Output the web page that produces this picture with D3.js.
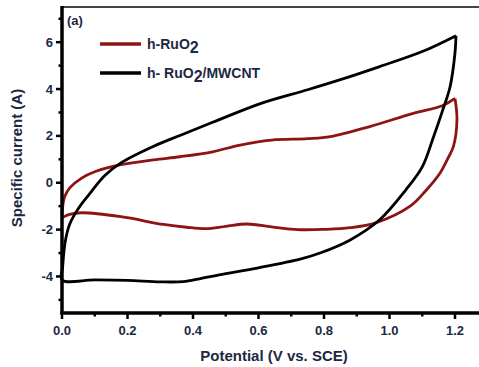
<!DOCTYPE html>
<html>
<head>
<meta charset="utf-8">
<script src="https://cdn.jsdelivr.net/npm/d3@7"></script>
<style>
  body { margin: 0; background: #fff; }
  text { font-family: "Liberation Sans", Arial, sans-serif; font-weight: bold; fill: #1c2842; }
</style>
</head>
<body>
<script>
// h-RuO2 loop: starts at the vertex, return sweep, then forward sweep back up
const ruo2_v = [1.2, 1.206, 1.195, 1.176, 1.155, 1.11, 1.063, 0.96, 0.88, 0.8, 0.72, 0.64, 0.565, 0.5, 0.44, 0.38, 0.31, 0.18, 0.06, 0.02, 0.002, 0.002, 0.008, 0.025, 0.06, 0.1, 0.18, 0.28, 0.36, 0.46, 0.54, 0.64, 0.75, 0.82, 0.94, 1.07, 1.163, 1.2];
const ruo2_i = [3.6, 2.7, 1.54, 0.98, 0.43, -0.35, -1.0, -1.7, -1.92, -1.99, -2.0, -1.88, -1.76, -1.86, -1.96, -1.9, -1.78, -1.45, -1.28, -1.36, -1.45, -1.05, -0.6, -0.2, 0.2, 0.47, 0.77, 0.98, 1.11, 1.32, 1.6, 1.82, 1.88, 1.97, 2.4, 2.95, 3.3, 3.6];

// h-RuO2/MWCNT loop
const cnt_v = [1.203, 1.2, 1.185, 1.163, 1.133, 1.1, 1.05, 0.97, 0.88, 0.79, 0.73, 0.6, 0.48, 0.42, 0.37, 0.3, 0.2, 0.1, 0.0, 0.002, 0.01, 0.024, 0.05, 0.08, 0.13, 0.18, 0.28, 0.36, 0.46, 0.61, 0.75, 0.85, 0.97, 1.1, 1.203];
const cnt_i = [6.28, 5.55, 4.1, 3.12, 1.9, 0.68, -0.3, -1.58, -2.44, -2.99, -3.25, -3.63, -3.93, -4.1, -4.22, -4.23, -4.17, -4.15, -4.15, -3.6, -2.5, -1.75, -1.1, -0.55, 0.3, 0.85, 1.56, 2.02, 2.58, 3.4, 3.97, 4.4, 4.96, 5.6, 6.28];

const x_ticks = [0.0, 0.2, 0.4, 0.6, 0.8, 1.0, 1.2];
const x_minor = [0.1, 0.3, 0.5, 0.7, 0.9, 1.1];
const y_ticks = [-4, -2, 0, 2, 4, 6];
const y_minor = [-5, -3, -1, 1, 3, 5, 7];

const series = [
	{ name: "h-RuO", sub: "2", rest: "", color: "#8e1414", v: ruo2_v, i: ruo2_i },
	{ name: "h- RuO", sub: "2", rest: "/MWCNT", color: "#000", v: cnt_v, i: cnt_i }
];

let width = 479;
let height = 367;
let margin = { left: 62, top: 8, bottom: 54 };

let svg = d3.select("body").append("svg")
	.attr("width", width)
	.attr("height", height);

let x = d3.scaleLinear().domain([0, 1.2]).range([margin.left, 455]);
let y = d3.scaleLinear().domain([-5.56, 7.46]).range([height - margin.bottom, margin.top]);

// frame top line
svg.append("line")
	.attr("x1", margin.left).attr("x2", width)
	.attr("y1", margin.top - 1).attr("y2", margin.top - 1)
	.attr("stroke", "#444").attr("stroke-width", 2);

// curves
let line = d3.line()
	.x(d => x(d[0]))
	.y(d => y(d[1]))
	.curve(d3.curveCatmullRom.alpha(0.5));

series.forEach(s => {
	let pts = s.v.map((v, k) => [v, s.i[k]]);
	svg.append("path")
		.datum(pts)
		.attr("d", line)
		.attr("fill", "none")
		.attr("stroke", s.color)
		.attr("stroke-width", 2.8)
		.attr("stroke-linejoin", "miter");
});

// x axis
let y0 = y.range()[0];
svg.selectAll(".xmaj")
	.data(x_ticks)
	.join("line")
	.attr("class", "xmaj")
	.attr("x1", d => x(d)).attr("x2", d => x(d))
	.attr("y1", y0).attr("y2", y0 + 6)
	.attr("stroke", "#000").attr("stroke-width", 2.5);
svg.selectAll(".xmin")
	.data(x_minor)
	.join("line")
	.attr("class", "xmin")
	.attr("x1", d => x(d)).attr("x2", d => x(d))
	.attr("y1", y0).attr("y2", y0 + 3.5)
	.attr("stroke", "#000").attr("stroke-width", 2.5);
svg.selectAll(".xlab")
	.data(x_ticks)
	.join("text")
	.attr("class", "xlab")
	.attr("x", d => x(d))
	.attr("y", y0 + 22)
	.attr("text-anchor", "middle")
	.attr("font-size", 13)
	.text(d => d.toFixed(1));

// y axis
let x0 = margin.left;
svg.selectAll(".ymaj")
	.data(y_ticks)
	.join("line")
	.attr("class", "ymaj")
	.attr("x1", x0 - 6).attr("x2", x0)
	.attr("y1", d => y(d)).attr("y2", d => y(d))
	.attr("stroke", "#000").attr("stroke-width", 2.5);
svg.selectAll(".ymin")
	.data(y_minor)
	.join("line")
	.attr("class", "ymin")
	.attr("x1", x0 - 3.5).attr("x2", x0)
	.attr("y1", d => y(d)).attr("y2", d => y(d))
	.attr("stroke", "#000").attr("stroke-width", 2.5);
svg.selectAll(".ylab")
	.data(y_ticks)
	.join("text")
	.attr("class", "ylab")
	.attr("x", x0 - 9)
	.attr("y", d => y(d) + 4.5)
	.attr("text-anchor", "end")
	.attr("font-size", 13)
	.text(d => d);

svg.append("line")
	.attr("x1", x0).attr("x2", x0)
	.attr("y1", margin.top - 2).attr("y2", y0 + 1.5)
	.attr("stroke", "#000").attr("stroke-width", 3.5);
svg.append("line")
	.attr("x1", x0 - 1.5).attr("x2", width)
	.attr("y1", y0).attr("y2", y0)
	.attr("stroke", "#000").attr("stroke-width", 3.5);

// axis titles
svg.append("text")
	.attr("x", 274).attr("y", 361)
	.attr("text-anchor", "middle")
	.attr("font-size", 15)
	.text("Potential (V vs. SCE)");
svg.append("text")
	.attr("transform", "translate(22,158) rotate(-90)")
	.attr("text-anchor", "middle")
	.attr("font-size", 15)
	.text("Specific current (A)");

// panel tag
svg.append("text")
	.attr("x", 67).attr("y", 25)
	.attr("font-size", 13)
	.text("(a)");

// legend
series.forEach((s, k) => {
	let ly = 44 + k * 29;
	svg.append("line")
		.attr("x1", 100).attr("x2", 141)
		.attr("y1", ly).attr("y2", ly)
		.attr("stroke", s.color).attr("stroke-width", 3.5);
	let t = svg.append("text")
		.attr("x", 147).attr("y", ly + 5)
		.attr("font-size", 14);
	t.append("tspan").text(s.name);
	t.append("tspan").attr("dy", 4).attr("font-size", 16).text(s.sub);
	if (s.rest) t.append("tspan").attr("dy", -4).text(s.rest);
});
</script>
</body>
</html>
